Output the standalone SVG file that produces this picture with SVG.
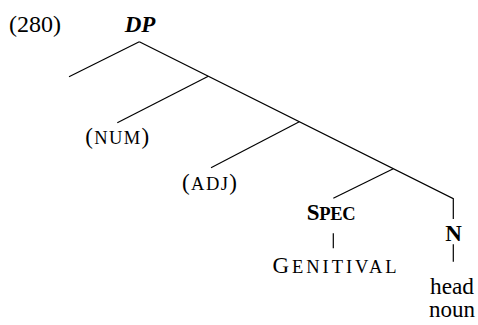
<svg xmlns="http://www.w3.org/2000/svg" width="478" height="325" viewBox="0 0 478 325">
<style>
  .t { font-family: "Liberation Serif", "Times New Roman", serif; font-size: 23px; fill: #000; }
  .b { font-weight: bold; }
  .sc { font-size: 18.5px; }
  .e { stroke: #000; stroke-width: 1.2; fill: none; stroke-linecap: butt; }
</style>
<rect width="478" height="325" fill="#fff"/>
<text class="t" x="9" y="31.7" textLength="52" lengthAdjust="spacingAndGlyphs">(280)</text>
<g id="dp"><text class="t b" x="140" y="31.7" text-anchor="middle" font-style="italic">DP</text></g>
<g id="num"><text class="t" x="117.2" y="144.3" text-anchor="middle" textLength="64" lengthAdjust="spacing">(<tspan class="sc">NUM</tspan>)</text></g>
<g id="adj"><text class="t" x="209.5" y="190" text-anchor="middle" textLength="55" lengthAdjust="spacing">(<tspan class="sc">ADJ</tspan>)</text></g>
<g id="spec"><text class="t b" x="331.2" y="220" text-anchor="middle" textLength="49" lengthAdjust="spacing">S<tspan class="sc">PEC</tspan></text></g>
<g id="genitival"><text class="t" x="334.5" y="273.3" text-anchor="middle" textLength="124" lengthAdjust="spacing">G<tspan class="sc">ENITIVAL</tspan></text></g>
<g id="n"><text class="t b" x="453.5" y="240.7" text-anchor="middle">N</text></g>
<g id="headnoun"><text class="t" x="452" y="293.5" text-anchor="middle" font-size="22" textLength="44" lengthAdjust="spacingAndGlyphs">head</text><text class="t" x="452" y="316.5" text-anchor="middle" font-size="22" textLength="46" lengthAdjust="spacingAndGlyphs">noun</text></g>
<g id="edges">
  <path class="e" d="M139.3,41.7 L453.3,198.7 L453.3,219"/>
  <path class="e" d="M139.3,41.7 L69,76.7"/>
  <path class="e" d="M208.3,76.2 L117.3,122.7"/>
  <path class="e" d="M299.3,121.7 L211,167.7"/>
  <path class="e" d="M393.3,168.7 L333.3,198.3"/>
  <path class="e" d="M333.3,233.3 L333.3,248.3"/>
  <path class="e" d="M453.3,244.3 L453.3,261.7"/>
</g>
</svg>
